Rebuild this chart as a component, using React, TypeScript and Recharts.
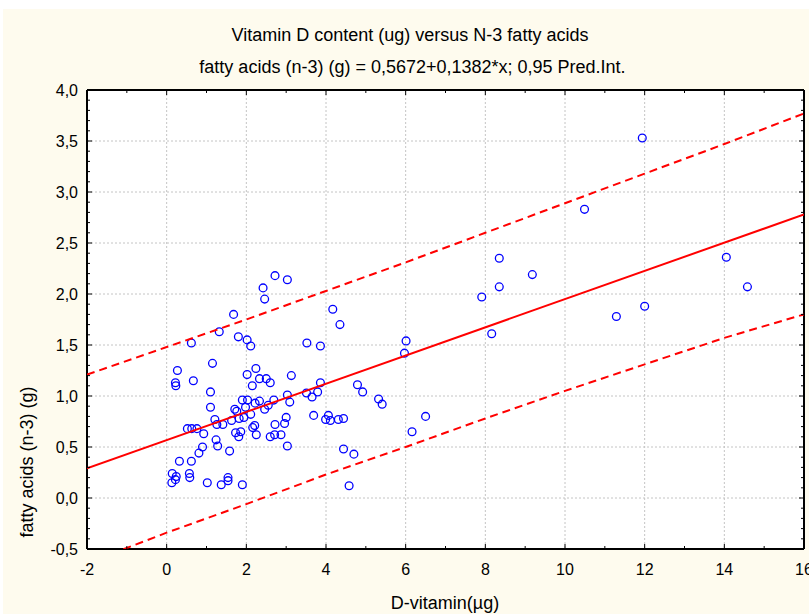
import { CartesianGrid, ComposedChart, Scatter, XAxis, YAxis } from 'recharts';

// measured values (µg vitamin D, g n-3 fatty acids)
const vitaminD = [
  2.72, 3.03, 2.42, 2.46, 1.68, 1.32, 0.62, 1.8, 2.02, 2.11, 3.52, 3.86, 0.27, 1.15,
  0.22, 0.23, 0.67, 2.24, 2.02, 3.13, 2.33, 2.5, 2.6, 2.15, 1.1, 1.1, 1.9, 2.03,
  3.03, 3.09, 2.69, 2.33, 2.22, 2.55, 2.46, 1.98, 1.71, 1.76, 2.11, 1.94, 1.82, 1.63,
  1.21, 1.26, 1.41, 0.52, 0.63, 0.76, 0.93, 1.73, 1.86, 1.81, 2.16, 2.21, 2.25, 2.72,
  2.6, 2.71, 2.87, 2.96, 3.0, 3.03, 3.69, 3.51, 3.65, 3.79, 3.86, 3.99, 4.06, 4.11,
  4.31, 4.44, 1.24, 1.28, 1.58, 0.9, 0.81, 0.32, 0.62, 0.14, 0.24, 0.13, 0.22, 0.57,
  0.58, 1.02, 1.37, 1.54, 1.54, 1.9, 4.44, 4.7, 4.58, 8.35, 9.18, 8.35, 7.91, 4.17,
  4.35, 6.01, 5.97, 8.16, 4.79, 4.92, 5.32, 5.41, 6.5, 6.16, 11.94, 10.49, 14.05, 14.58,
  11.29, 12.0,
];
const fattyAcids = [
  2.18, 2.14, 2.06, 1.95, 1.8, 1.63, 1.52, 1.58, 1.55, 1.49, 1.52, 1.49, 1.25, 1.32,
  1.13, 1.1, 1.15, 1.27, 1.21, 1.2, 1.17, 1.17, 1.13, 1.1, 1.04, 0.89, 0.96, 0.96,
  1.01, 0.94, 0.96, 0.95, 0.93, 0.91, 0.87, 0.89, 0.87, 0.85, 0.82, 0.79, 0.78, 0.76,
  0.77, 0.72, 0.72, 0.68, 0.68, 0.68, 0.63, 0.64, 0.65, 0.6, 0.69, 0.71, 0.62, 0.72,
  0.6, 0.62, 0.62, 0.73, 0.79, 0.51, 0.81, 1.03, 0.99, 1.04, 1.13, 0.77, 0.81, 0.76,
  0.77, 0.78, 0.57, 0.51, 0.46, 0.5, 0.44, 0.36, 0.36, 0.24, 0.21, 0.15, 0.18, 0.24,
  0.2, 0.15, 0.13, 0.2, 0.17, 0.13, 0.48, 0.43, 0.12, 2.35, 2.19, 2.07, 1.97, 1.85,
  1.7, 1.54, 1.42, 1.61, 1.11, 1.04, 0.97, 0.92, 0.8, 0.65, 3.53, 2.83, 2.36, 2.07,
  1.78, 1.88,
];

// regression line and 0,95 prediction band
const fitX = [-2, 16];
const fitY = [0.29, 2.78];
const bandX = [-2, 0, 2, 4, 6, 8, 10, 12, 14, 16];
const bandUpper = [1.21, 1.48, 1.75, 2.03, 2.31, 2.6, 2.89, 3.18, 3.47, 3.77];
const bandLower = [-0.64, -0.34, -0.06, 0.23, 0.5, 0.78, 1.05, 1.31, 1.57, 1.8];

const xTickLabels = [-2, 0, 2, 4, 6, 8, 10, 12, 14, 16];
const yTickLabels = [-0.5, 0, 0.5, 1, 1.5, 2, 2.5, 3, 3.5, 4];
const xMinorTicks = Array.from({ length: 19 }, (_, i) => i - 2);
const yMinorTicks = Array.from({ length: 46 }, (_, i) => Math.round(i - 5) / 10);

const points = vitaminD.map((x, i) => ({ x, y: fattyAcids[i] }));
const fitLine = fitX.map((x, i) => ({ x, y: fitY[i] }));
const upper = bandX.map((x, i) => ({ x, y: bandUpper[i] }));
const lower = bandX.map((x, i) => ({ x, y: bandLower[i] }));

const FONT = '"Liberation Sans", Arial, sans-serif';
const CREAM = '#fefbee';
const RED = '#ff0000';

const isMajorY = (v: number) => Math.abs(v * 2 - Math.round(v * 2)) < 1e-6;

const BottomTick = (p: any) => {
  const v = p.payload.value;
  const major = v % 2 === 0;
  return (
    <g>
      <line x1={p.x} y1={p.y} x2={p.x} y2={p.y - (major ? 5 : 3)} stroke="#000" />
      {major && (
        <text x={p.x} y={p.y + 26} textAnchor="middle" fontSize={16} fontFamily={FONT} fill="#000">
          {v}
        </text>
      )}
    </g>
  );
};

const TopTick = (p: any) => {
  const major = p.payload.value % 2 === 0;
  return <line x1={p.x} y1={p.y} x2={p.x} y2={p.y + (major ? 5 : 3)} stroke="#000" />;
};

const LeftTick = (p: any) => {
  const v = p.payload.value;
  const major = isMajorY(v);
  return (
    <g>
      <line x1={p.x} y1={p.y} x2={p.x + (major ? 5 : 3)} y2={p.y} stroke="#000" />
      {major && (
        <text x={p.x - 9} y={p.y + 5.5} textAnchor="end" fontSize={16} fontFamily={FONT} fill="#000">
          {v.toFixed(1).replace('.', ',')}
        </text>
      )}
    </g>
  );
};

const RightTick = (p: any) => {
  const major = isMajorY(p.payload.value);
  return <line x1={p.x} y1={p.y} x2={p.x - (major ? 5 : 3)} y2={p.y} stroke="#000" />;
};

const Ring = (p: any) => (
  <circle cx={p.cx} cy={p.cy} r={3.9} fill="none" stroke="#0000ff" strokeWidth={1.3} />
);
const NoDot = () => <g />;

const frame = { stroke: '#000', strokeWidth: 2 };

export default function App() {
  return (
    <div
      style={{
        position: 'absolute',
        left: 0,
        top: 0,
        width: 809,
        height: 614,
        background: '#fff',
        overflow: 'hidden',
        fontFamily: FONT,
        color: '#000',
      }}
    >
      <div style={{ position: 'absolute', left: 3, top: 9, width: 806, height: 605, background: CREAM }}>
        <ComposedChart width={806} height={605} margin={{ top: 80, right: 0, bottom: 0, left: 0 }}>
          <XAxis xAxisId="gx" type="number" dataKey="x" domain={[-2, 16]} ticks={xTickLabels} hide allowDataOverflow />
          <YAxis yAxisId="gy" type="number" dataKey="y" domain={[-0.5, 4]} ticks={yTickLabels} hide allowDataOverflow />
          <CartesianGrid xAxisId="gx" yAxisId="gy" fill="#fff" fillOpacity={1} stroke="#c4c4c4" strokeDasharray="2 2" />

          <XAxis
            xAxisId={0}
            type="number"
            dataKey="x"
            orientation="bottom"
            domain={[-2, 16]}
            ticks={xMinorTicks}
            interval={0}
            height={65}
            tickSize={0}
            tickMargin={0}
            tickLine={false}
            tick={BottomTick}
            axisLine={frame}
            allowDataOverflow
          />
          <XAxis
            xAxisId="top"
            type="number"
            dataKey="x"
            orientation="top"
            domain={[-2, 16]}
            ticks={xMinorTicks}
            interval={0}
            height={1}
            tickSize={0}
            tickMargin={0}
            tickLine={false}
            tick={TopTick}
            axisLine={frame}
            allowDataOverflow
          />
          <YAxis
            yAxisId={0}
            type="number"
            dataKey="y"
            domain={[-0.5, 4]}
            ticks={yMinorTicks}
            interval={0}
            width={84}
            tickSize={0}
            tickMargin={0}
            tickLine={false}
            tick={LeftTick}
            axisLine={frame}
            allowDataOverflow
          />
          <YAxis
            yAxisId="right"
            type="number"
            dataKey="y"
            orientation="right"
            domain={[-0.5, 4]}
            ticks={yMinorTicks}
            interval={0}
            width={5}
            tickSize={0}
            tickMargin={0}
            tickLine={false}
            tick={RightTick}
            axisLine={frame}
            allowDataOverflow
          />

          <Scatter data={points} shape={Ring} isAnimationActive={false} />
          <Scatter
            data={fitLine}
            shape={NoDot}
            fill={RED}
            line={{ stroke: RED, strokeWidth: 2 }}
            isAnimationActive={false}
          />
          <Scatter
            data={upper}
            xAxisId="top"
            yAxisId="right"
            shape={NoDot}
            fill={RED}
            line={{ stroke: RED, strokeWidth: 2, strokeDasharray: '8 5' }}
            isAnimationActive={false}
          />
          <Scatter
            data={lower}
            xAxisId="gx"
            yAxisId="gy"
            shape={NoDot}
            fill={RED}
            line={{ stroke: RED, strokeWidth: 2, strokeDasharray: '8 5' }}
            isAnimationActive={false}
          />
        </ComposedChart>
      </div>

      <div style={{ position: 'absolute', left: 0, width: 820, top: 26, textAlign: 'center', fontSize: 18, lineHeight: '18px', whiteSpace: 'nowrap' }}>
        Vitamin D content (ug) versus N-3 fatty acids
      </div>
      <div style={{ position: 'absolute', left: 0, width: 825, top: 58, textAlign: 'center', fontSize: 18, lineHeight: '18px', whiteSpace: 'nowrap' }}>
        fatty acids (n-3) (g) = 0,5672+0,1382*x; 0,95 Pred.Int.
      </div>
      <div
        style={{
          position: 'absolute',
          left: 27,
          top: 462,
          transform: 'translate(-50%, -50%) rotate(-90deg)',
          fontSize: 18,
          lineHeight: '18px',
          whiteSpace: 'nowrap',
        }}
      >
        fatty acids (n-3) (g)
      </div>
      <div style={{ position: 'absolute', left: 345, width: 200, top: 594, textAlign: 'center', fontSize: 18, lineHeight: '18px', whiteSpace: 'nowrap' }}>
        D-vitamin(µg)
      </div>
    </div>
  );
}
